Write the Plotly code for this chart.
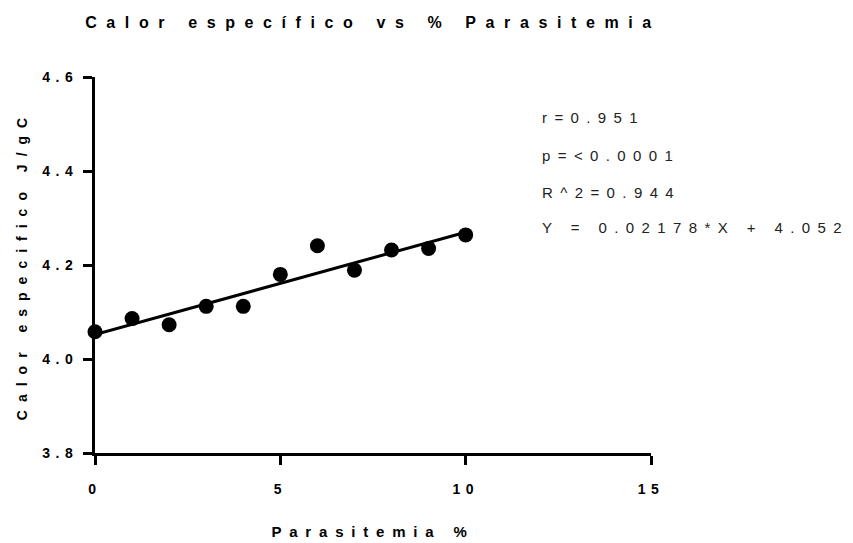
import plotly.graph_objects as go

# Data
parasitemia = [0, 1, 2, 3, 4, 5, 6, 7, 8, 9, 10]
calor = [4.058, 4.086, 4.073, 4.112, 4.112, 4.180, 4.241, 4.189, 4.232, 4.235, 4.264]
slope = 0.02178
intercept = 4.052
fit_x = [0, 10]
fit_y = [slope * v + intercept for v in fit_x]
stats_lines = ["r=0.951", "p=<0.0001", "R^2=0.944", "Y = 0.02178*X + 4.052"]
x_ticks = [0, 5, 10, 15]
y_ticks = [3.8, 4.0, 4.2, 4.4, 4.6]

FONT = "Liberation Sans, Arial, sans-serif"

fig = go.Figure()
fig.add_trace(go.Scatter(x=fit_x, y=fit_y, mode="lines",
                         line=dict(color="black", width=3), cliponaxis=False,
                         showlegend=False))
fig.add_trace(go.Scatter(x=parasitemia, y=calor, mode="markers",
                         marker=dict(color="black", size=15), cliponaxis=False,
                         showlegend=False))

ys = [0.891, 0.790, 0.694, 0.601]
for t, yy in zip(stats_lines, ys):
    fig.add_annotation(text=t, x=0.8004, y=yy, xref="paper", yref="paper",
                       xanchor="left", yanchor="middle", align="left", showarrow=False,
                       font=dict(family=FONT, size=15, color="#222"))

fig.update_layout(
    width=853, height=543,
    margin=dict(l=95, r=202, t=77, b=90),
    plot_bgcolor="white", paper_bgcolor="white",
    title=dict(text="<b>Calor específico vs % Parasitemia</b>", x=0.5, xref="paper",
               xanchor="center", y=0.9595, yref="container", yanchor="middle",
               font=dict(family=FONT, size=16, color="black")),
    xaxis=dict(range=[0, 15], tickvals=x_ticks, showgrid=False, zeroline=False,
               showline=True, linecolor="black", linewidth=3, automargin=False,
               ticks="outside", ticklen=9, tickwidth=3, tickcolor="black",
               ticklabelstandoff=12,
               tickfont=dict(family=FONT, size=14, color="black", weight="bold"),
               title=dict(text="<b>Parasitemia %</b>", standoff=31,
                          font=dict(family=FONT, size=15, color="black"))),
    yaxis=dict(range=[3.8, 4.6], tickvals=y_ticks, tickformat=".1f", showgrid=False,
               zeroline=False, showline=True, linecolor="black", linewidth=3,
               automargin=False,
               ticks="outside", ticklen=9, tickwidth=3, tickcolor="black",
               ticklabelstandoff=2,
               tickfont=dict(family=FONT, size=14, color="black", weight="bold"),
               title=dict(text="<b>Calor especifico J/gC</b>", standoff=28,
                          font=dict(family=FONT, size=14, color="black"))),
)

post = """
var s=document.createElement('style');
s.innerHTML='body{margin:0;} .gtitle{letter-spacing:9.6px;} .xtick text,.ytick text{letter-spacing:5.5px;} .xtitle{letter-spacing:7.8px;} .ytitle{letter-spacing:8px;} .annotation-text{letter-spacing:7.4px;}';
document.head.appendChild(s);
"""
fig.write_html("out.html", post_script=post, config={"displayModeBar": False})
